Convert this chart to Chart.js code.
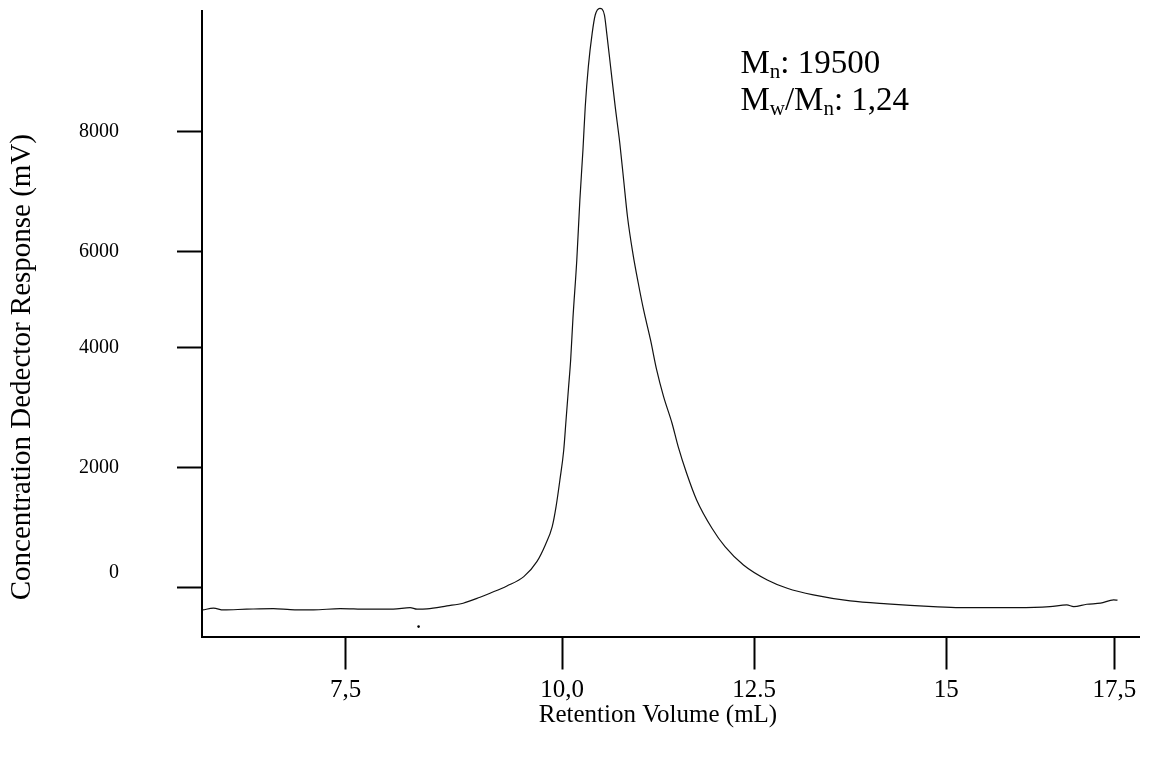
<!DOCTYPE html>
<html>
<head>
<meta charset="utf-8">
<title>GPC trace</title>
<script src="https://cdn.jsdelivr.net/npm/chart.js@4.4.1/dist/chart.umd.min.js"></script>
<style>
  html, body { margin: 0; padding: 0; background: #fff; }
  #wrap { width: 1157px; height: 760px; }
</style>
</head>
<body>
<div id="wrap"><canvas id="gpcChart" width="1157" height="760"></canvas></div>
<script>
// retention volume (mL) and detector response (mV)
const volume = [5.32, 5.46, 5.59, 5.89, 6.24, 6.46, 6.76, 7.11, 7.46, 7.80, 8.02, 8.11, 8.24, 8.50,
  8.71, 8.93, 9.06, 9.28, 9.50, 9.67, 9.78, 9.87, 9.92, 9.97, 10.02, 10.05, 10.08, 10.11, 10.14,
  10.19, 10.23, 10.27, 10.30, 10.34, 10.39, 10.43, 10.49, 10.55, 10.58, 10.63, 10.69, 10.75, 10.80,
  10.85, 10.92, 10.99, 11.06, 11.15, 11.23, 11.32, 11.43, 11.51, 11.62, 11.75, 11.95, 12.12, 12.36,
  12.67, 12.93, 13.27, 13.75, 14.23, 14.83, 15.18, 15.53, 15.92, 16.35, 16.57, 16.66, 16.83, 17.01,
  17.18, 17.23];
const response = [-367, -338, -367, -355, -345, -362, -367, -345, -355, -355, -328, -355, -350, -300,
  -255, -155, -88, 33, 188, 438, 717, 1022, 1355, 1800, 2300, 2800, 3300, 3800, 4500,
  5467, 6467, 7300, 8022, 8688, 9245, 9550, 9662, 9550, 9245, 8688, 8022, 7412, 6800,
  6188, 5578, 5083, 4633, 4133, 3633, 3188, 2745, 2355, 1912, 1467, 995, 688, 383,
  133, -5, -117, -217, -267, -312, -328, -328, -328, -312, -283, -312, -272, -255,
  -200, -205];

// the lone stray dot under the baseline
const strayVolume = [8.13];
const strayResponse = [-645];

// tick positions as they sit on the original plot, and their printed labels
const xTickValues = [7.18, 10, 12.5, 15, 17.19];
const xTickLabels = ['7,5', '10,0', '12.5', '15', '17,5'];
const yTickValues = [0, 2000, 4000, 5600, 7600];
const yTickLabels = ['0', '2000', '4000', '6000', '8000'];

const mnValue = '19500';
const dispersityValue = '1,24';

const serif = '"Liberation Serif", "Times New Roman", serif';
const nbsp = '\u00a0';

function drawRich(ctx, x, baseline, parts) {
  parts.forEach(([text, sub]) => {
    ctx.font = (sub ? 21 : 33) + 'px ' + serif;
    ctx.fillText(text, x, sub ? baseline + 5 : baseline);
    x += ctx.measureText(text).width;
  });
}

const molarMassNote = {
  id: 'molarMassNote',
  afterDraw(chart) {
    const { ctx, scales: { x, y } } = chart;
    const left = x.getPixelForValue(12.32);
    ctx.save();
    ctx.fillStyle = '#000';
    ctx.textAlign = 'left';
    ctx.textBaseline = 'alphabetic';
    drawRich(ctx, left, y.getPixelForValue(8590), [['M'], ['n', true], [': ' + mnValue]]);
    drawRich(ctx, left, y.getPixelForValue(7970), [['M'], ['w', true], ['/M'], ['n', true], [': ' + dispersityValue]]);
    ctx.restore();
  }
};

const trace = volume.map((v, i) => ({ x: v, y: response[i] }));
const stray = strayVolume.map((v, i) => ({ x: v, y: strayResponse[i] }));

const ctx = document.getElementById('gpcChart').getContext('2d');
new Chart(ctx, {
  type: 'line',
  data: {
    datasets: [{
      data: trace,
      borderColor: '#111',
      borderWidth: 1.2,
      pointRadius: 0,
      cubicInterpolationMode: 'monotone',
      clip: false,
    }, {
      data: stray,
      showLine: false,
      pointRadius: 1.3,
      pointBorderWidth: 0,
      pointBackgroundColor: '#000',
    }],
  },
  options: {
    responsive: false,
    animation: false,
    devicePixelRatio: 1,
    layout: { padding: { top: 11, right: 18, left: 0, bottom: 0 } },
    plugins: { legend: { display: false }, tooltip: { enabled: false } },
    scales: {
      x: {
        type: 'linear',
        min: 5.31,
        max: 17.51,
        afterFit: (scale) => {
          scale.height = 123.5;
          scale.paddingLeft = 0;
          scale.paddingRight = 0;
        },
        afterBuildTicks: (scale) => { scale.ticks = xTickValues.map(v => ({ value: v })); },
        border: { display: true, color: '#000', width: 2 },
        grid: { drawOnChartArea: false, drawTicks: true, tickLength: 33, tickWidth: 2, tickColor: '#000', color: '#000' },
        ticks: {
          autoSkip: false,
          maxRotation: 0,
          padding: 6,
          color: '#000',
          font: { family: serif, size: 25 },
          callback: (value, index) => xTickLabels[index],
        },
        title: {
          display: true,
          text: 'Retention Volume (mL)' + nbsp.repeat(4),
          color: '#000',
          font: { family: serif, size: 25 },
          padding: { top: 0, bottom: 30 },
        },
      },
      y: {
        type: 'linear',
        min: -810,
        max: 9617,
        afterFit: (scale) => {
          scale.width = 202;
          scale.paddingTop = 0;
          scale.paddingBottom = 0;
        },
        afterBuildTicks: (scale) => { scale.ticks = yTickValues.map(v => ({ value: v })); },
        border: { display: true, color: '#000', width: 2 },
        grid: { drawOnChartArea: false, drawTicks: true, tickLength: 25, tickWidth: 2, tickColor: '#000', color: '#000' },
        ticks: {
          autoSkip: false,
          padding: 58,
          color: '#000',
          font: { family: serif, size: 20, lineHeight: '30px' },
          // the zero label sits a bit above its tick in the original
          callback: (value, index) => index === 0 ? [yTickLabels[index], ''] : yTickLabels[index],
        },
        title: {
          display: true,
          align: 'start',
          text: nbsp.repeat(5) + 'Concentration Dedector Response (mV)',
          color: '#000',
          font: { family: serif, size: 29 },
          padding: { top: 5, bottom: 5 },
        },
      },
    },
  },
  plugins: [molarMassNote],
});
</script>
</body>
</html>
